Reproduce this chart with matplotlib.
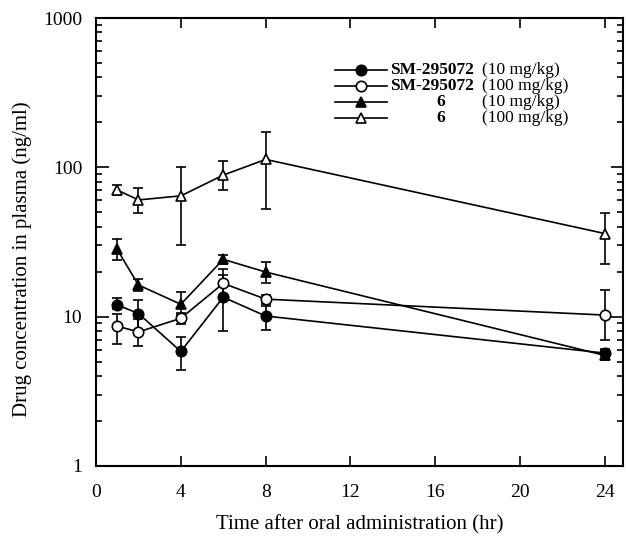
import numpy as np
import matplotlib
matplotlib.use('Agg')
import matplotlib.pyplot as plt

plt.rcParams['font.family'] = ['Liberation Serif', 'DejaVu Serif']

# Time points (hr)
t = [1, 2, 4, 6, 8, 24]

# SM-295072 10 mg/kg (filled circle)
sm10 = [12.0, 10.5, 5.85, 13.5, 10.1, 5.7]
sm10_lo = [11.2, 8.2, 4.4, 8.0, 8.2, 5.2]
sm10_hi = [13.3, 13.0, 7.3, 19.0, 11.7, 6.1]

# SM-295072 100 mg/kg (open circle)
sm100 = [8.65, 7.9, 9.75, 16.7, 13.1, 10.25]
sm100_lo = [6.6, 6.4, 8.9, 13.5, 12.2, 7.0]
sm100_hi = [10.5, 9.6, 10.6, 20.8, 14.0, 15.1]

# compound 6 10 mg/kg (filled triangle)
c10 = [28.2, 16.3, 12.1, 24.2, 19.9, 5.5]
c10_lo = [23.8, 14.8, 10.3, 22.5, 16.9, 5.1]
c10_hi = [33.0, 18.0, 14.6, 26.0, 23.3, 5.9]

# compound 6 100 mg/kg (open triangle)
c100 = [70.5, 60.5, 64.4, 88.7, 113.0, 36.0]
c100_lo = [65.0, 49.4, 30.0, 70.5, 52.9, 22.7]
c100_hi = [76.0, 73.2, 100.6, 109.6, 173.6, 49.7]

series = [
    (sm10, sm10_lo, sm10_hi, 'o', 'black', 'SM-295072', '(10 mg/kg)'),
    (sm100, sm100_lo, sm100_hi, 'o', 'white', 'SM-295072', '(100 mg/kg)'),
    (c10, c10_lo, c10_hi, '^', 'black', '6', '(10 mg/kg)'),
    (c100, c100_lo, c100_hi, '^', 'white', '6', '(100 mg/kg)'),
]

fig = plt.figure(figsize=(6.26, 5.41), dpi=100)
ax = fig.add_axes([96 / 626, 1 - 466 / 541, 527 / 626, 448 / 541])

for y, lo, hi, m, fc, name, dose in series:
    y = np.array(y)
    err = [y - np.array(lo), np.array(hi) - y]
    ax.errorbar(t, y, yerr=err, fmt='-', marker=m, color='black', mfc=fc,
                mec='black', ms=7.5, mew=1.2, lw=1.2, elinewidth=1.2,
                capsize=3.5, capthick=1.2, zorder=3)

ax.set_yscale('log')
ax.set_ylim(1, 1000)
ax.set_xlim(0, 24.85)
ax.set_xticks([0, 4, 8, 12, 16, 20, 24])
ax.set_yticks([1, 10, 100, 1000])
ax.set_yticklabels(['1', '10', '100', '1000'])
ax.tick_params(axis='both', which='both', direction='in', top=True, right=True,
               labelsize=14, width=1.2)
ax.tick_params(axis='x', which='major', length=7, pad=13)
ax.tick_params(axis='y', which='major', length=9, pad=10)
ax.tick_params(axis='y', which='minor', length=4.5)
ax.tick_params(axis='x', which='minor', bottom=False, top=False)
for s in ax.spines.values():
    s.set_linewidth(1.5)

ax.set_xlabel('Time after oral administration (hr)', fontsize=15, labelpad=10)
ax.set_ylabel('Drug concentration in plasma (ng/ml)', fontsize=15)
ax.yaxis.set_label_coords(-0.122, 0.462)

# legend drawn by hand so the name and dose line up in columns
rows = [0.884, 0.848, 0.8125, 0.777]
for (y, lo, hi, m, fc, name, dose), ry in zip(series, rows):
    ax.plot([0.4535, 0.552], [ry, ry], color='black', lw=1.2,
            transform=ax.transAxes, clip_on=False)
    ax.plot([0.503], [ry], marker=m, ms=7.5, mfc=fc, mec='black', mew=1.2,
            transform=ax.transAxes, clip_on=False)
    if name == '6':
        ax.text(0.6546, ry, name, fontsize=12.5, fontweight='bold', ha='center',
                va='center', transform=ax.transAxes)
    else:
        ax.text(0.558, ry, name, fontsize=12.5, fontweight='bold', ha='left',
                va='center', transform=ax.transAxes)
    ax.text(0.7325, ry, dose, fontsize=12.5, ha='left', va='center',
            transform=ax.transAxes)

fig.savefig('out.png', dpi=100)
